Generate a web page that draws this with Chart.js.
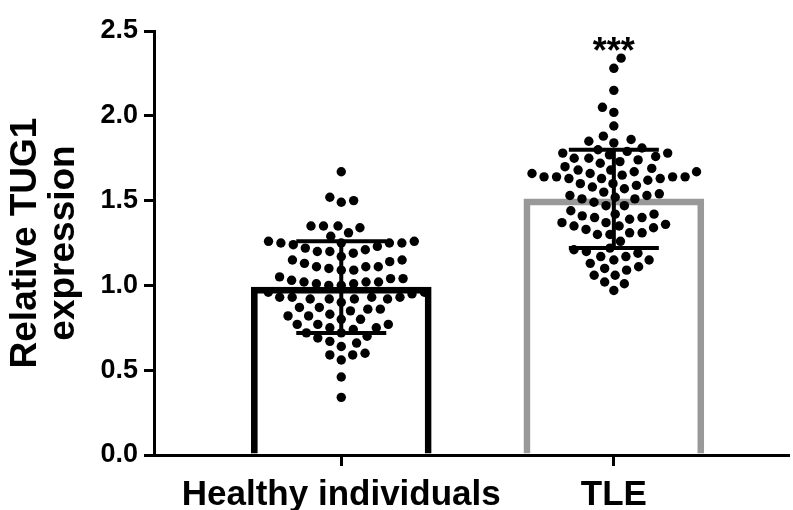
<!DOCTYPE html>
<html>
<head>
<meta charset="utf-8">
<script src="https://cdn.jsdelivr.net/npm/chart.js@4.4.1/dist/chart.umd.min.js"></script>
<style>
  html, body { margin: 0; padding: 0; background: #ffffff; }
</style>
</head>
<body>
<canvas id="chart" width="793" height="510"></canvas>
<script>

// groups on the x axis
var groupLabels = ["Healthy individuals", "TLE"];

// relative TUG1 expression, one value per subject
var healthyValues = [
  1.67,
  1.52, 1.49, 1.50,
  1.31, 1.35, 1.35, 1.34, 1.35, 1.29,
  1.26, 1.25, 1.25, 1.25, 1.25, 1.24, 1.26,
  1.22, 1.23,
  1.20, 1.19, 1.20, 1.21, 1.17,
  1.15, 1.13, 1.14, 1.15,
  1.11, 1.10, 1.09, 1.09, 1.11, 1.11,
  1.04, 1.03, 1.02, 1.01, 1.00, 1.00, 1.01, 1.02, 1.02, 1.04, 1.05,
  0.96, 0.93, 0.93, 0.92, 0.92, 0.90, 0.92, 0.92, 0.93, 0.93, 0.95, 0.96,
  0.87, 0.86, 0.85, 0.82, 0.80, 0.80, 0.82, 0.83, 0.86, 0.87,
  0.77, 0.75, 0.74, 0.72, 0.72, 0.75, 0.77, 0.77,
  0.70, 0.66, 0.64, 0.67, 0.69,
  0.59, 0.56, 0.59, 0.60,
  0.46,
  0.34
];

var tleValues = [
  2.34, 2.28, 2.15, 2.05, 2.02, 1.94,
  1.88, 1.86, 1.85, 1.84,
  1.81, 1.80, 1.79, 1.78,
  1.77, 1.75, 1.74, 1.75, 1.76, 1.73, 1.72, 1.78, 1.70,
  1.69, 1.68, 1.67, 1.67, 1.68,
  1.66, 1.64, 1.64, 1.63, 1.63, 1.63, 1.64, 1.64, 1.65, 1.66,
  1.60, 1.59, 1.58, 1.60, 1.62, 1.57,
  1.55, 1.53, 1.52, 1.51, 1.51, 1.53, 1.54,
  1.49, 1.47,
  1.42, 1.42, 1.44, 1.47,
  1.40, 1.39, 1.37, 1.35, 1.40, 1.41,
  1.33, 1.31, 1.34, 1.30, 1.35, 1.30, 1.36, 1.31, 1.37,
  1.26,
  1.21, 1.19, 1.17, 1.13, 1.10, 1.15, 1.15, 1.17, 1.20, 1.22, 1.11, 1.09,
  1.06, 1.06, 1.02, 1.01, 0.97
];

// bar heights (mean) and error bars (SD)
var groupMeans = [0.99, 1.51];
var groupSD = [0.27, 0.29];
var significance = ["", "***"];

var yTickValues = [0.0, 0.5, 1.0, 1.5, 2.0, 2.5];

var FONT = "'Liberation Sans', Arial, Helvetica, sans-serif";
var DOT_GAP = 12.5;


/**
 * Beeswarm: returns horizontal pixel offsets so dots don't overlap
 * @param pys pixel y of every dot
 * @param d minimal distance between dot centres
 */
function swarmOffsets(pys, d) {

  var order = pys.map(function(p, i) { return i; })
      .sort(function(a, b) { return pys[b] - pys[a]; });

  var placed = [];
  var out = [];
  var flip = 1;

  order.forEach(function(i) {
    var py = pys[i];
    var cands = [0];
    placed.forEach(function(p) {
      var dy = Math.abs(p.y - py);
      if (dy < d) {
        var dx = Math.sqrt(d * d - dy * dy);
        cands.push(p.x + dx, p.x - dx);
      }
    });
    cands.sort(function(a, b) {
      return (Math.abs(a) - Math.abs(b)) || (a - b) * flip;
    });

    var best = 0;
    for (var k = 0; k < cands.length; k++) {
      var ok = true;
      for (var j = 0; j < placed.length; j++) {
        var ddx = placed[j].x - cands[k], ddy = placed[j].y - py;
        if (ddx * ddx + ddy * ddy < d * d - 0.01) { ok = false; break; }
      }
      if (ok) { best = cands[k]; break; }
    }
    flip = -flip;
    placed.push({x: best, y: py});
    out[i] = best;
  });

  return out;
}


/**
 * Error bars (mean +- SD) and significance stars
 */
var errorBarPlugin = {
  id: "errorBars",
  afterDatasetsDraw: function(chart) {
    var ctx = chart.ctx;
    var xs = chart.scales.x, ys = chart.scales.y;
    ctx.save();
    ctx.strokeStyle = "#000000";
    ctx.lineWidth = 4;
    groupMeans.forEach(function(m, i) {
      var cx = xs.getPixelForValue(i);
      var top = ys.getPixelForValue(m + groupSD[i]);
      var bot = ys.getPixelForValue(m - groupSD[i]);
      ctx.beginPath();
      ctx.moveTo(cx, top); ctx.lineTo(cx, bot);
      ctx.moveTo(cx - 45, top); ctx.lineTo(cx + 45, top);
      ctx.moveTo(cx - 45, bot); ctx.lineTo(cx + 45, bot);
      ctx.stroke();

      if (significance[i]) {
        var vals = i === 0 ? healthyValues : tleValues;
        var maxV = Math.max.apply(null, vals);
        ctx.fillStyle = "#000000";
        ctx.font = "bold 36px " + FONT;
        ctx.textAlign = "center";
        ctx.textBaseline = "alphabetic";
        ctx.fillText(significance[i], cx, ys.getPixelForValue(maxV) + 5);
      }
    });
    ctx.restore();
  }
};


var dotStyle = {
  type: "scatter",
  backgroundColor: "#000000",
  borderWidth: 0,
  pointRadius: 4.7,
  pointHoverRadius: 4.7,
  order: 0
};

var chart = new Chart(document.getElementById("chart"), {
  type: "scatter",
  data: {
    datasets: [
      Object.assign({label: groupLabels[0], data: healthyValues.map(function(v) { return {x: 0, y: v}; })}, dotStyle),
      Object.assign({label: groupLabels[1], data: tleValues.map(function(v) { return {x: 1, y: v}; })}, dotStyle),
      {
        type: "bar",
        label: "mean",
        data: groupMeans.map(function(m, i) { return {x: i, y: m}; }),
        backgroundColor: "rgba(0,0,0,0)",
        borderColor: ["#000000", "#999999"],
        borderWidth: 6,
        borderSkipped: "start",
        barThickness: 180,
        order: 1
      }
    ]
  },
  options: {
    responsive: false,
    animation: false,
    events: [],
    layout: { padding: { top: 31, right: 0, bottom: 0, left: 0 } },
    plugins: {
      legend: { display: false },
      tooltip: { enabled: false }
    },
    scales: {
      x: {
        type: "linear",
        min: -0.687,
        max: 1.64,
        offset: false,
        afterBuildTicks: function(s) {
          s.ticks = groupLabels.map(function(l, i) { return {value: i}; });
        },
        ticks: {
          color: "#000000",
          autoSkip: false,
          maxRotation: 0,
          padding: 8,
          font: { family: FONT, size: 35, weight: "bold" },
          callback: function(v) { return groupLabels[v]; }
        },
        grid: { offset: false, drawOnChartArea: false, tickLength: 11, color: "#000000", lineWidth: 3 },
        border: { color: "#000000", width: 3 },
        afterFit: function(s) { s.height = 55; }
      },
      y: {
        min: 0,
        max: 2.5,
        afterBuildTicks: function(s) {
          s.ticks = yTickValues.map(function(v) { return {value: v}; });
        },
        ticks: {
          color: "#000000",
          padding: 6,
          font: { family: FONT, size: 27, weight: "bold" },
          callback: function(v) { return v.toFixed(1); }
        },
        grid: { drawOnChartArea: false, tickLength: 10, color: "#000000", lineWidth: 3 },
        border: { color: "#000000", width: 3 },
        title: {
          display: true,
          text: ["Relative TUG1", "expression"],
          color: "#000000",
          font: { family: FONT, size: 37, weight: "bold", lineHeight: 1.03 },
          padding: { top: 7, bottom: 0 }
        },
        afterFit: function(s) { s.width = 154; }
      }
    }
  },
  plugins: [errorBarPlugin]
});

// spread the dots now that the scales exist
(function layoutSwarm() {
  var xs = chart.scales.x, ys = chart.scales.y;
  var unit = xs.getPixelForValue(1) - xs.getPixelForValue(0);
  [healthyValues, tleValues].forEach(function(vals, g) {
    var offs = swarmOffsets(vals.map(function(v) { return ys.getPixelForValue(v); }), DOT_GAP);
    chart.data.datasets[g].data = vals.map(function(v, i) {
      return {x: g + offs[i] / unit, y: v};
    });
  });
  chart.update("none");
})();

</script>
</body>
</html>
